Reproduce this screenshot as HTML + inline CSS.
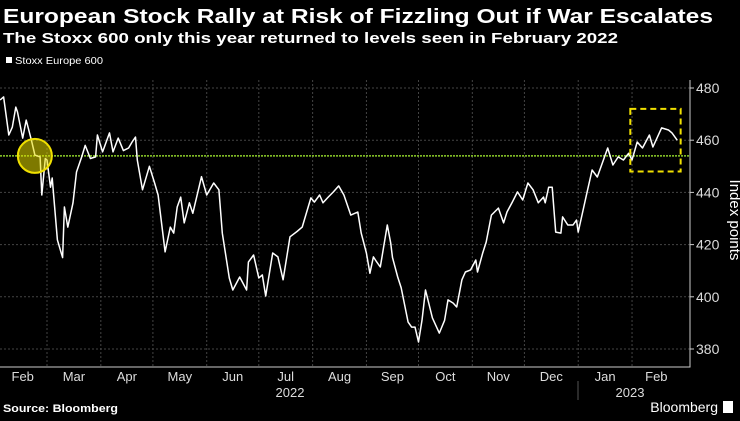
<!DOCTYPE html>
<html><head><meta charset="utf-8"><style>
body{margin:0;background:#000;width:740px;height:416px;overflow:hidden;font-family:"Liberation Sans",sans-serif;color:#fff}
</style></head><body>
<svg width="740" height="416" xmlns="http://www.w3.org/2000/svg" font-family="Liberation Sans, sans-serif">
<text x="3" y="23" font-size="20" font-weight="bold" fill="#fff" textLength="710" lengthAdjust="spacingAndGlyphs">European Stock Rally at Risk of Fizzling Out if War Escalates</text>
<text x="3" y="43" font-size="15" font-weight="bold" fill="#fff" textLength="615" lengthAdjust="spacingAndGlyphs">The Stoxx 600 only this year returned to levels seen in February 2022</text>
<rect x="6" y="57" width="6" height="6" fill="#fff"/>
<text x="15" y="64" font-size="10" fill="#fff" textLength="88" lengthAdjust="spacingAndGlyphs">Stoxx Europe 600</text>
<g id="grid"></g>
<g id="axes"></g>
<line x1="0" x2="690" id="ref" stroke="#8fd12a" stroke-width="1.5" stroke-dasharray="2,1"/>
<path id="line" fill="none" stroke="#fff" stroke-width="1.5" stroke-linejoin="round"/>
<circle id="circ" r="17" fill="rgba(230,220,0,0.55)" stroke="#f0e000" stroke-width="2"/>
<rect id="box" fill="none" stroke="#f0e000" stroke-width="2" stroke-dasharray="6,4"/>
<text x="730" y="220" font-size="15" fill="#fff" text-anchor="middle" transform="rotate(90 730 220)">Index points</text>
<line x1="578" x2="578" y1="381" y2="400" stroke="#555"/>
<text x="290" y="397" font-size="13" fill="#ddd" text-anchor="middle">2022</text>
<text x="630" y="397" font-size="13" fill="#ddd" text-anchor="middle">2023</text>
<text x="3" y="412" font-size="11" font-weight="bold" fill="#fff" textLength="115" lengthAdjust="spacingAndGlyphs">Source: Bloomberg</text>
<text x="718" y="412" font-size="14" fill="#fff" text-anchor="end">Bloomberg</text>
<rect x="723" y="401" width="10" height="12" fill="#fff"/>
</svg>
<script>
const days=[1,3,6,8,10,11,14,16,19,21,24,25,27,28,30,31,34,37,38,40,43,45,48,50,53,56,57,60,64,66,69,72,75,77,79,80,83,87,90,92,96,99,101,103,105,107,110,112,117,120,124,127,129,133,135,139,143,144,147,150,152,154,158,161,164,168,172,175,180,182,185,187,190,193,196,199,203,207,209,212,214,216,218,220,224,226,227,230,232,236,238,240,242,244,246,250,254,257,259,262,264,267,269,272,275,276,279,281,284,288,291,293,296,299,302,305,308,311,314,315,317,319,321,324,325,328,331,333,334,339,342,345,351,354,357,360,363,365,368,371,375,377,382,386,388,391];
const values=[475.4,476.6,462,465,472.7,470.8,460.8,467.7,460,454.3,453.6,439,453,452.4,442,445.5,421.8,415,434.4,426.7,436,447.8,453.6,458,453,453.6,462,455.5,462.8,455.5,460.8,456,457,459.3,461.2,452.4,441,450,443.6,439,417.2,426.7,424.4,434.4,438.2,428.3,436,432,446,439,443.6,441,424.4,407.2,402.6,407.6,402.6,413.3,416,407.2,408.4,400.3,416.8,415.3,406.5,423,425,426.7,437.9,436.3,439,436,438.2,440.2,442.5,439,431.3,432.5,424.4,416.8,409,415.3,413.3,411.4,427.5,420.6,415,407.6,403.4,390.3,388.4,388.4,382.7,391,402.6,391.9,386.1,391,398.8,397.6,396.1,406.5,409.5,410.3,414.1,409.5,416.8,421,431.3,434,428.3,432.5,436.3,440.2,437.1,443.6,441,436,438.2,436,442,442,424.8,424.4,430.6,427.5,427.5,429.4,424.8,439.8,448.6,445.9,457,450.5,453.6,452.4,455,452.4,459.3,457,462,457.4,464.7,463.9,462.8,460];
const yTicks=[380,400,420,440,460,480];
const months=["Feb","Mar","Apr","May","Jun","Jul","Aug","Sep","Oct","Nov","Dec","Jan","Feb"];
const monthStarts=[0,28,59,89,120,150,181,212,242,273,303,334,365];
const refLevel=454;
const ns="http://www.w3.org/2000/svg";
const x=d=>-1.6+d*1.736;
const y=v=>88+(480-v)*2.61;
const grid=document.getElementById('grid'),axes=document.getElementById('axes');
function mk(tag,attrs,parent){const e=document.createElementNS(ns,tag);for(const k in attrs)e.setAttribute(k,attrs[k]);parent.appendChild(e);return e;}
yTicks.forEach(v=>{
 const g=mk('line',{x1:0,x2:690,y1:y(v),y2:y(v),stroke:'#444','stroke-dasharray':'2,2'},grid);
 
 
 const tk=mk('line',{x1:690,x2:694,y1:y(v),y2:y(v),stroke:'#ccc'},axes);
 
 
 const t=mk('text',{x:696,y:y(v)+5,'font-size':14,fill:'#ddd'},axes);t.textContent=v;
 
 
});
monthStarts.forEach((d,i)=>{
 if(i>0){const g=mk('line',{x1:x(d),x2:x(d),y1:80,y2:367,stroke:'#444','stroke-dasharray':'2,2'},grid);
 
 }
 const nd=i<monthStarts.length-1?monthStarts[i+1]:393;
 const t=mk('text',{x:(x(Math.max(d,0))+x(nd))/2,y:381,'font-size':13,fill:'#ddd','text-anchor':'middle'},axes);t.textContent=months[i];
 
 
});
const ax=mk('path',{d:'M690 80 V367 H0',fill:'none',stroke:'#ccc'},axes);


const r=document.getElementById('ref');r.setAttribute('y1',y(refLevel));r.setAttribute('y2',y(refLevel));
document.getElementById('line').setAttribute('d',days.map((d,i)=>(i?'L':'M')+x(d).toFixed(1)+' '+y(values[i]).toFixed(1)).join(' '));
const c=document.getElementById('circ');c.setAttribute('cx',x(21));c.setAttribute('cy',y(refLevel));
const b=document.getElementById('box');b.setAttribute('x',x(364));b.setAttribute('y',y(472));b.setAttribute('width',x(393)-x(364));b.setAttribute('height',y(448)-y(472));
</script>
</body></html>
